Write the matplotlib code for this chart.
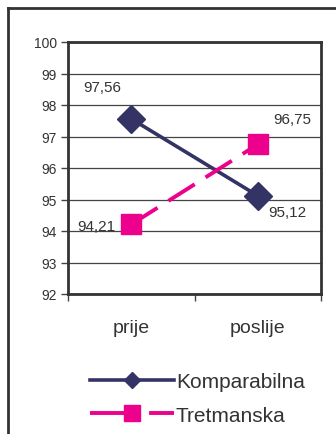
import matplotlib
matplotlib.use('Agg')
import matplotlib.pyplot as plt
from matplotlib.lines import Line2D

categories = ['prije', 'poslije']
komparabilna = [97.56, 95.12]
tretmanska = [94.21, 96.75]
series_names = ['Komparabilna', 'Tretmanska']
y_ticks = [92, 93, 94, 95, 96, 97, 98, 99, 100]

navy = '#333366'
pink = '#ec008c'
text_col = '#333333'

plt.rcParams['font.family'] = ['Liberation Sans', 'DejaVu Sans']

fig = plt.figure(figsize=(3.36, 4.35), dpi=100)
ax = fig.add_axes([68 / 336, 1 - 295 / 435, 253 / 336, 252 / 435])

x = list(range(len(categories)))

ax.plot(x, komparabilna, color=navy, lw=2.6, marker='D', ms=14,
        zorder=3, solid_capstyle='butt')
ax.plot(x, tretmanska, color=pink, lw=2.8, marker='s', ms=15,
        dashes=(8, 3.3), zorder=3)

# value labels, placed around each point
def fmt(v):
    return f'{v:.2f}'.replace('.', ',')

offsets_k = [(-21, 23), (21, -11.5)]
offsets_t = [(-25, -1), (24.5, 18)]
for xi, v, off in zip(x, komparabilna, offsets_k):
    ax.annotate(fmt(v), (xi, v), xytext=off, textcoords='offset points',
                ha='center', va='center', fontsize=11, color=text_col)
for xi, v, off in zip(x, tretmanska, offsets_t):
    ax.annotate(fmt(v), (xi, v), xytext=off, textcoords='offset points',
                ha='center', va='center', fontsize=11, color=text_col)

ax.set_xlim(-0.5, len(categories) - 0.5)
ax.set_ylim(y_ticks[0], y_ticks[-1])
ax.set_yticks(y_ticks)
ax.set_yticklabels([str(t) for t in y_ticks], fontsize=10, color=text_col)
ax.yaxis.grid(True, color='#444444', lw=0.9)
ax.set_axisbelow(True)

# category boundaries get the tick marks, labels sit in between
ax.set_xticks([i - 0.5 for i in range(len(categories) + 1)])
ax.set_xticklabels([])
ax.set_xticks(x, minor=True)
ax.set_xticklabels(categories, minor=True, fontsize=14, color=text_col)
ax.tick_params(axis='x', which='minor', length=0, pad=18)
ax.tick_params(axis='x', which='major', length=5, width=1, color='#444444')
ax.tick_params(axis='y', length=5, width=1, color='#444444', pad=3)

for sp in ax.spines.values():
    sp.set_color('#333333')
    sp.set_linewidth(2)

handles = [
    Line2D([], [], color=navy, lw=2.6, marker='D', ms=8),
    Line2D([], [], color=pink, lw=2.8, marker='s', ms=11, dashes=(12.4, 2.8)),
]
fig.legend(handles, series_names, loc='upper left',
           bbox_to_anchor=(80 / 336, 1 - 363 / 435), frameon=False,
           fontsize=15, handlelength=4.0, handletextpad=0.1,
           labelspacing=0.68, labelcolor=text_col, borderpad=0)

# outer chart frame (runs off the right and bottom edges)
frame_kw = dict(color='#333333', lw=2, transform=fig.transFigure)
fig.add_artist(Line2D([8 / 336, 8 / 336], [0, 1 - 9 / 435], **frame_kw))
fig.add_artist(Line2D([8 / 336, 1], [1 - 9 / 435, 1 - 9 / 435], **frame_kw))

fig.savefig('out.png', dpi=100)
